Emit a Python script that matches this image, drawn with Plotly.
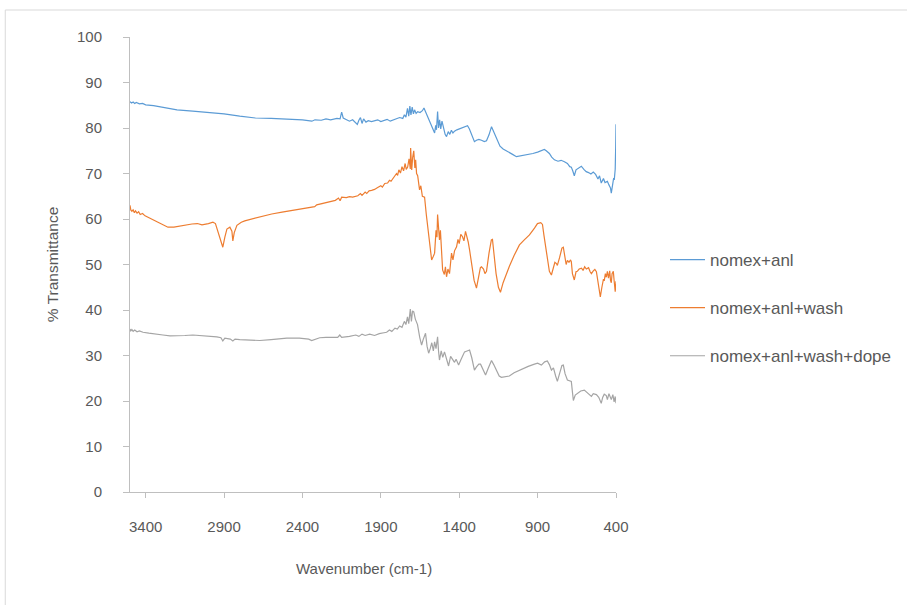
import plotly.graph_objects as go

# ---- data ----
series_names = ["nomex+anl", "nomex+anl+wash", "nomex+anl+wash+dope"]
x_tick_labels = [3400, 2900, 2400, 1900, 1400, 900, 400]

blue_wn = [3500, 3490, 3480, 3470, 3460, 3440, 3420, 3400, 3350, 3300, 3250, 3200, 3100, 3000, 2900, 2800,
           2700, 2600, 2500, 2400, 2340, 2320, 2280, 2250, 2220, 2180, 2160, 2150, 2140, 2120, 2100, 2080,
           2060, 2050, 2040, 2030, 2020, 2010, 1995, 1980, 1960, 1940, 1920, 1900, 1880, 1860, 1840, 1820,
           1800, 1780, 1760, 1750, 1740, 1730, 1722, 1715, 1708, 1700, 1692, 1685, 1675, 1665, 1650, 1635,
           1625, 1615, 1600, 1590, 1575, 1565, 1557, 1550, 1545, 1538, 1532, 1525, 1518, 1510, 1500, 1490,
           1481, 1470, 1460, 1450, 1440, 1430, 1415, 1400, 1380, 1360, 1347, 1335, 1320, 1303, 1290, 1275,
           1258, 1240, 1226, 1210, 1194, 1180, 1160, 1140, 1120, 1092, 1060, 1035, 1000, 965, 930, 900,
           870, 857, 845, 825, 810, 793, 770, 750, 729, 710, 695, 685, 675, 666, 655, 640, 621, 605, 590,
           575, 560, 545, 530, 515, 505, 494, 480, 470, 455, 445, 435, 430, 422, 415, 411, 405, 402, 400]
blue_t = [85.8, 85.5, 85.7, 85.4, 85.6, 85.3, 85.4, 85.1, 84.9, 84.6, 84.2, 84.0, 83.7, 83.4, 83.1, 82.6,
          82.2, 82.1, 82.0, 81.8, 81.5, 81.8, 81.7, 82.0, 81.8, 82.1, 82.0, 83.5, 82.2, 81.8, 81.5, 81.8,
          81.2, 80.8, 81.7, 82.3, 81.0, 82.0, 81.3, 81.6, 81.4, 81.6, 81.8, 81.4, 81.7, 81.9, 81.5, 81.8,
          82.0, 82.3, 82.1, 82.9, 82.4, 84.3, 82.6, 84.8, 82.9, 84.6, 83.1, 84.0, 83.2, 83.6, 83.4, 83.8,
          84.4, 83.6, 82.2, 81.4, 80.4, 79.5, 78.9, 80.6, 79.6, 83.6, 80.0, 81.8, 79.8, 81.5, 80.0, 78.6,
          78.1, 79.2, 78.6, 79.5, 78.9, 79.3, 79.6, 79.8, 80.1, 80.4, 80.5, 79.8, 78.4, 77.0, 77.3, 77.5,
          77.3, 77.0, 77.2, 78.5, 80.3, 79.2, 77.4, 76.0, 75.4, 74.9, 74.2, 73.7, 73.9, 74.1, 74.4, 74.7,
          75.1, 75.3, 75.0, 74.4, 73.6, 73.0, 72.7, 72.9, 72.6, 72.2, 71.5, 71.4, 70.5, 69.5, 70.8, 71.2,
          71.6, 70.9, 70.4, 70.2, 69.9, 70.3, 69.8, 68.8, 69.5, 67.9, 68.9, 68.0, 68.3, 67.5, 66.8, 65.7,
          67.5, 69.0, 68.6, 71.0, 76.0, 80.8]

orange_wn = [3500, 3495, 3488, 3480, 3472, 3465, 3455, 3445, 3435, 3420, 3404, 3380, 3350, 3300, 3258, 3220,
             3180, 3140, 3105, 3070, 3041, 3000, 2971, 2955, 2939, 2925, 2908, 2895, 2882, 2863, 2850, 2844,
             2835, 2818, 2790, 2768, 2700, 2650, 2596, 2530, 2468, 2400, 2340, 2322, 2309, 2260, 2213, 2190,
             2170, 2160, 2150, 2120, 2100, 2080, 2047, 2030, 2020, 2000, 1990, 1975, 1959, 1940, 1920, 1900,
             1890, 1875, 1857, 1845, 1835, 1820, 1810, 1800, 1793, 1785, 1775, 1765, 1755, 1745, 1738, 1729,
             1720, 1712, 1710, 1703, 1697, 1690, 1683, 1678, 1672, 1665, 1653, 1645, 1635, 1621, 1610, 1602,
             1590, 1580, 1576, 1565, 1557, 1548, 1542, 1538, 1532, 1526, 1520, 1513, 1506, 1495, 1488, 1481,
             1472, 1462, 1449, 1440, 1430, 1417, 1408, 1400, 1390, 1379, 1370, 1360, 1353, 1343, 1334, 1320,
             1305, 1290, 1278, 1265, 1258, 1245, 1236, 1226, 1210, 1195, 1188, 1178, 1165, 1150, 1137, 1120,
             1100, 1080, 1050, 1016, 985, 952, 920, 901, 880, 869, 860, 850, 838, 825, 812, 800, 790, 780,
             774, 760, 745, 736, 725, 718, 710, 700, 690, 685, 678, 672, 666, 655, 647, 635, 620, 610, 600,
             589, 575, 565, 557, 545, 535, 525, 515, 505, 500, 490, 480, 475, 468, 462, 455, 448, 440, 435,
             430, 425, 417, 412, 405, 402, 400]
orange_t = [63.0, 62.0, 61.7, 62.0, 61.4, 61.8, 61.3, 61.6, 61.0, 61.2, 60.7, 60.3, 59.7, 58.8, 58.2, 58.2,
            58.5, 58.8, 58.9, 59.0, 58.7, 59.0, 59.3, 59.0, 57.4, 55.5, 53.8, 56.0, 57.8, 58.2, 57.3, 55.2,
            57.0, 58.6, 59.3, 59.6, 60.2, 60.7, 61.1, 61.5, 61.9, 62.3, 62.6, 62.7, 63.1, 63.5, 64.0, 64.1,
            64.6, 64.0, 64.8, 64.7, 64.9, 64.8, 65.1, 65.6, 65.2, 65.9, 65.6, 66.2, 66.3, 66.5, 66.9, 67.3,
            67.0, 67.8, 67.9, 68.5, 68.3, 69.1, 69.4, 70.0, 69.6, 70.8, 70.1, 71.5, 70.6, 72.2, 70.9, 71.4,
            73.2, 71.0, 75.6, 70.8, 73.5, 75.0, 71.2, 73.0, 70.0, 69.5, 66.4, 67.3, 65.0, 64.8, 61.0, 58.3,
            54.5, 51.5, 51.0, 51.8, 52.5, 57.5, 56.0, 61.0, 57.0, 55.4, 57.5, 53.0, 48.8, 47.8, 49.5, 47.3,
            49.0, 48.0, 52.5, 51.0, 53.0, 53.9, 55.5, 54.6, 56.6, 56.1, 55.2, 57.3, 56.5, 55.0, 53.2, 49.5,
            46.5, 44.8, 47.0, 49.3, 49.5, 49.0, 48.0, 48.5, 52.5, 55.4, 55.5, 52.0, 48.0, 45.0, 43.9, 46.0,
            48.0, 49.6, 52.0, 54.3, 55.4, 56.5, 58.0, 59.0, 59.2, 58.8, 56.5, 53.9, 51.0, 48.5, 47.7, 49.0,
            50.5, 50.2, 49.8, 51.5, 53.6, 53.8, 51.5, 50.0, 50.9, 50.5, 51.0, 50.6, 48.0, 47.0, 46.6, 48.4,
            48.5, 49.0, 49.2, 48.7, 49.5, 49.0, 49.3, 48.4, 48.0, 48.6, 48.9, 48.4, 46.0, 43.5, 42.9, 45.0,
            46.8, 46.4, 48.0, 47.2, 48.5, 47.0, 48.6, 46.5, 46.0, 48.0, 48.5, 46.5, 44.0, 45.5, 46.3]

gray_wn = [3500, 3495, 3488, 3480, 3470, 3455, 3440, 3417, 3380, 3330, 3290, 3245, 3200, 3150, 3099, 3050,
           3000, 2946, 2920, 2908, 2895, 2880, 2860, 2844, 2830, 2800, 2750, 2672, 2600, 2500, 2420, 2360,
           2341, 2320, 2290, 2250, 2200, 2175, 2162, 2150, 2100, 2060, 2040, 2020, 2000, 1971, 1940, 1910,
           1880, 1863, 1845, 1830, 1810, 1795, 1780, 1765, 1750, 1740, 1730, 1722, 1712, 1705, 1698, 1690,
           1680, 1666, 1652, 1640, 1630, 1615, 1605, 1595, 1585, 1575, 1565, 1557, 1548, 1538, 1532, 1526,
           1515, 1505, 1494, 1480, 1468, 1455, 1443, 1430, 1420, 1404, 1390, 1375, 1366, 1350, 1334, 1320,
           1303, 1290, 1275, 1264, 1250, 1232, 1215, 1194, 1180, 1160, 1145, 1131, 1105, 1080, 1050, 1003,
           960, 920, 900, 876, 855, 838, 825, 812, 799, 785, 774, 760, 745, 736, 725, 710, 695, 685, 678,
           672, 660, 647, 625, 602, 585, 570, 557, 545, 525, 510, 500, 494, 485, 475, 462, 455, 445, 435,
           430, 420, 412, 405, 400]
gray_t = [35.8, 35.4, 35.7, 35.3, 35.6, 35.2, 35.4, 35.1, 34.9, 34.6, 34.5, 34.3, 34.3, 34.4, 34.5, 34.4,
          34.3, 34.1, 33.9, 33.2, 33.8, 33.7, 33.6, 33.2, 33.6, 33.5, 33.4, 33.3, 33.5, 33.8, 33.8, 33.6,
          33.3, 33.6, 33.9, 34.0, 34.1, 34.0, 34.5, 34.0, 34.2, 34.5, 34.2, 34.7, 34.4, 34.7, 34.4, 34.8,
          35.0, 35.1, 35.6, 35.3, 36.0, 35.8, 36.5, 36.2, 37.5, 36.8, 38.5, 37.0, 40.2, 37.5, 39.8, 39.6,
          38.0, 36.8, 34.0, 32.3, 33.5, 34.9, 32.0, 30.5, 31.5, 32.8, 31.0, 33.0, 31.5, 34.1, 31.0, 29.0,
          31.0, 29.6, 30.8, 29.0, 27.7, 29.8, 29.3, 28.5, 29.2, 27.9, 29.0, 30.3, 30.8, 31.0, 31.2, 29.5,
          26.8, 27.5, 28.1, 28.1, 27.0, 25.7, 27.2, 28.9, 28.0, 26.5, 25.5, 25.2, 25.4, 25.5, 26.2, 27.0,
          27.6, 28.1, 28.3, 27.9, 28.6, 28.8, 28.0, 26.8, 27.3, 25.5, 24.3, 26.0, 27.8, 27.9, 26.0, 24.6,
          24.5, 24.3, 22.0, 20.1, 21.3, 21.7, 22.2, 22.4, 21.9, 21.5, 21.0, 21.6, 21.4, 20.8, 20.0, 19.5,
          20.8, 21.5, 21.2, 20.3, 21.6, 20.5, 20.3, 21.4, 19.8, 21.0, 19.5]

colors = ["#5B9BD5", "#ED7D31", "#A5A5A5"]
text_color = "#595959"
axis_color = "#BFBFBF"
font_family = "Liberation Sans, Arial, sans-serif"

fig = go.Figure()
for i, (xs, ys) in enumerate([(blue_wn, blue_t), (orange_wn, orange_t), (gray_wn, gray_t)]):
    fig.add_trace(go.Scatter(
        x=xs, y=ys, mode="lines", name=series_names[i],
        line=dict(color=colors[i], width=1.2),
        legendgroup=f"g{i}",
    ))

# body margin is removed via post_script, so figure pixels == page pixels
W, H = 907, 605
L, T = 130, 37
pw, ph = 487, 455
R, B = W - L - pw, H - T - ph

def px_x(p):
    return (p - L) / pw

def px_y(p):
    return (T + ph - p) / ph

fig.update_layout(
    width=W, height=H,
    margin=dict(l=L, r=R, t=T, b=B),
    paper_bgcolor="white", plot_bgcolor="white",
    font=dict(family=font_family, color=text_color, size=15),
    showlegend=True,
    legend=dict(
        x=px_x(665), xanchor="left", y=px_y(308), yanchor="middle",
        font=dict(size=17, color=text_color),
        tracegroupgap=23, itemwidth=35, bgcolor="rgba(0,0,0,0)",
    ),
    xaxis=dict(
        range=[3500, 400], tickvals=x_tick_labels, ticktext=[str(v) for v in x_tick_labels],
        showline=True, linecolor=axis_color, linewidth=1,
        ticks="outside", ticklen=5, tickcolor=axis_color, tickwidth=1,
        showgrid=False, zeroline=False, ticklabelstandoff=16,
        tickfont=dict(size=15, color=text_color),
    ),
    yaxis=dict(
        range=[0, 100], dtick=10, tick0=0,
        showline=True, linecolor=axis_color, linewidth=1,
        ticks="outside", ticklen=6, tickcolor=axis_color, tickwidth=1,
        showgrid=False, zeroline=False, ticklabelstandoff=18,
        tickfont=dict(size=15, color=text_color),
    ),
    annotations=[
        dict(text="% Transmittance", xref="paper", yref="paper", x=px_x(52), y=px_y(265),
             xanchor="center", yanchor="middle", textangle=-90, showarrow=False,
             font=dict(size=15.5, color=text_color)),
        dict(text="Wavenumber (cm-1)", xref="paper", yref="paper", x=px_x(364), y=px_y(568),
             xanchor="center", yanchor="middle", showarrow=False,
             font=dict(size=15, color=text_color)),
    ],
    shapes=[
        dict(type="rect", xref="paper", yref="paper",
             x0=px_x(5), x1=px_x(1000), y0=px_y(10), y1=px_y(700),
             line=dict(color="#D9D9D9", width=1), fillcolor="rgba(0,0,0,0)", layer="below"),
    ],
)

fig.write_html("out.html", config={"displayModeBar": False},
               post_script="document.body.style.margin='0px';")
